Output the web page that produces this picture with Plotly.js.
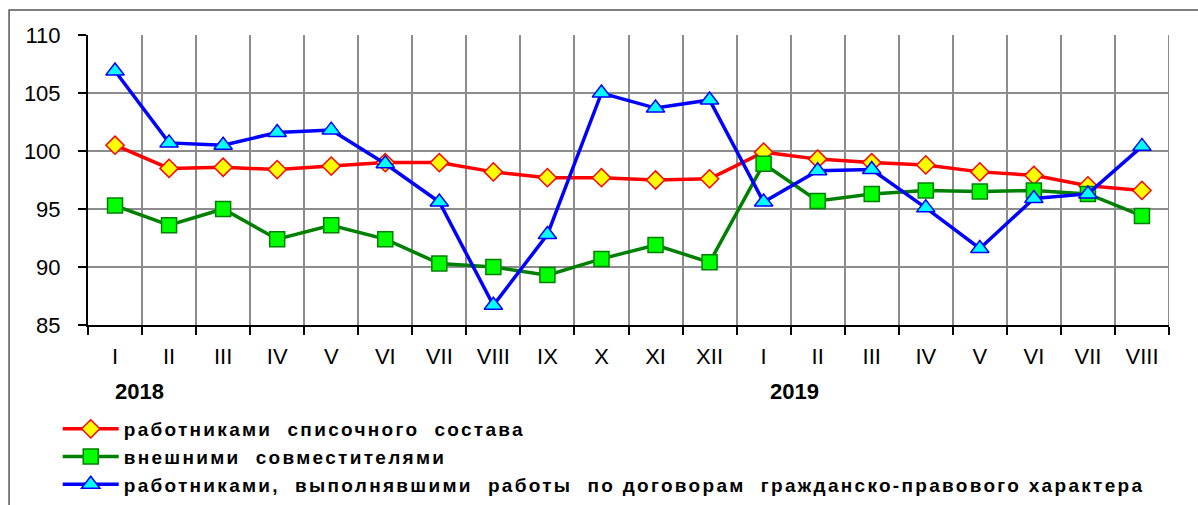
<!DOCTYPE html>
<html>
<head>
<meta charset="utf-8">
<script src="https://cdn.plot.ly/plotly-3.0.1.min.js"></script>
<style>
  body { margin: 0; background: #fff; }
  #chart { width: 1198px; height: 505px; }
  .legendtext { letter-spacing: 2.3px; }
</style>
</head>
<body>
<div id="chart"></div>
<script>
// months, 2018 I .. 2019 VIII
var months = ["I", "II", "III", "IV", "V", "VI", "VII", "VIII", "IX", "X", "XI", "XII",
  "I", "II", "III", "IV", "V", "VI", "VII", "VIII"];
var years = ["2018", "2019"];

var staff = [100.5, 98.5, 98.6, 98.4, 98.7, 99.0, 99.0, 98.2, 97.7, 97.7, 97.5, 97.6,
  99.9, 99.3, 99.0, 98.8, 98.2, 97.9, 97.0, 96.6];
var external = [95.3, 93.6, 95.0, 92.4, 93.6, 92.4, 90.3, 90.0, 89.3, 90.7, 91.9, 90.4,
  98.9, 95.7, 96.3, 96.6, 96.5, 96.6, 96.3, 94.4];
var contract = [106.9, 100.7, 100.5, 101.6, 101.8, 98.9, 95.6, 86.7, 92.8, 105.0, 103.7, 104.4,
  95.6, 98.3, 98.4, 95.1, 91.6, 95.9, 96.3, 100.4];

var names = [
  "работниками\u00A0 списочного\u00A0 состава",
  "внешними\u00A0 совместителями",
  "работниками,\u00A0 выполнявшими\u00A0 работы\u00A0 по договорам\u00A0 гражданско-правового характера"
];

var xs = months.map(function (m, i) { return i; });
var bounds = [];
for (var b = -0.5; b <= months.length - 0.5; b++) bounds.push(b);

var data = [
  {
    x: xs, y: staff, name: names[0], type: "scatter", mode: "lines+markers",
    line: { color: "#ff0000", width: 3.5 },
    marker: { symbol: "diamond", size: 14, color: "#ffff00", line: { color: "#ff0000", width: 1.5 } }
  },
  {
    x: xs, y: external, name: names[1], type: "scatter", mode: "lines+markers",
    line: { color: "#008000", width: 3.5 },
    marker: { symbol: "square", size: 15, color: "#00ff00", line: { color: "#008000", width: 1.5 } }
  },
  {
    x: xs, y: contract, name: names[2], type: "scatter", mode: "lines+markers",
    line: { color: "#0000ff", width: 3.5 },
    marker: { symbol: "triangle-up", size: 16, color: "#00ffff", line: { color: "#0000ff", width: 1.5 } }
  }
];

var layout = {
  width: 1198, height: 505,
  margin: { l: 88, r: 29, t: 35, b: 180, autoexpand: false },
  paper_bgcolor: "#fff", plot_bgcolor: "#fff",
  font: { family: "Liberation Sans, Arial, sans-serif", color: "#000", size: 22 },
  showlegend: true,
  legend: {
    x: -0.028, y: -0.293, xanchor: "left", yanchor: "top",
    font: { size: 19, weight: "bold" },
    itemwidth: 56, bgcolor: "rgba(0,0,0,0)"
  },
  xaxis: {
    range: [-0.5, months.length - 0.5],
    tickvals: xs, ticktext: months,
    ticks: "", showgrid: false, zeroline: false,
    showline: true, linecolor: "#000", linewidth: 2,
    ticklabelstandoff: 11,
    minor: { tickvals: bounds, ticks: "outside", ticklen: 8, tickwidth: 2, tickcolor: "#000",
      showgrid: true, gridcolor: "#8c8c8c", gridwidth: 2 }
  },
  yaxis: {
    range: [85, 110], dtick: 5,
    ticks: "outside", ticklen: 8, tickwidth: 2, tickcolor: "#000",
    showgrid: true, gridcolor: "#8c8c8c", gridwidth: 2, zeroline: false,
    showline: true, linecolor: "#000", linewidth: 2,
    ticklabelstandoff: 13
  },
  annotations: [
    { text: "<b>" + years[0] + "</b>", x: 0.46, y: -0.231, xref: "x", yref: "paper",
      yanchor: "middle", showarrow: false, font: { size: 22 } },
    { text: "<b>" + years[1] + "</b>", x: 12.58, y: -0.231, xref: "x", yref: "paper",
      yanchor: "middle", showarrow: false, font: { size: 22 } }
  ],
  shapes: [
    { type: "rect", xref: "paper", yref: "paper", x0: -0.073, x1: 1.2, y0: -1, y1: 1.086,
      line: { color: "#555", width: 1.5 } },
    { type: "line", xref: "x", yref: "paper", x0: 19.5, x1: 19.5, y0: 0, y1: 1,
      line: { color: "#8c8c8c", width: 2 } }
  ]
};

Plotly.newPlot("chart", data, layout, { displayModeBar: false, staticPlot: true });
</script>
</body>
</html>
